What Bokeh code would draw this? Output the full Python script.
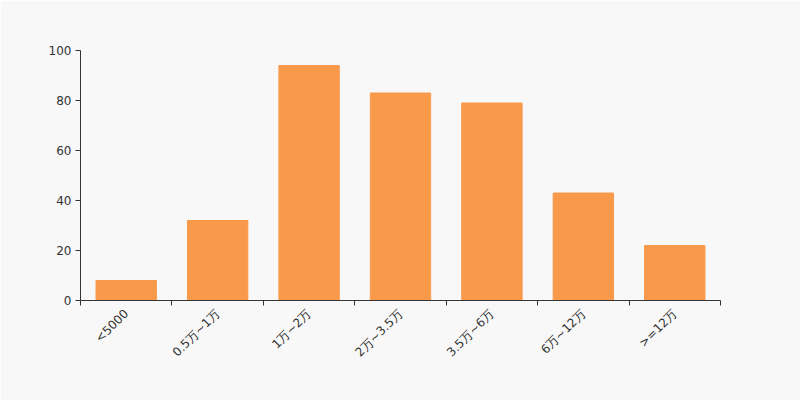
from bokeh.plotting import figure
from bokeh.models import FixedTicker, Range1d
from bokeh.embed import file_html
from bokeh.resources import INLINE
import math

categories = ["<5000", "0.5万~1万", "1万~2万", "2万~3.5万", "3.5万~6万", "6万~12万", ">=12万"]
values = [8, 32, 94, 83, 79, 43, 22]
y_ticks = [0, 20, 40, 60, 80, 100]

centers = [i + 0.5 for i in range(len(categories))]
bounds = list(range(len(categories) + 1))

p = figure(width=800, height=400, output_backend="svg", toolbar_location=None,
           x_range=Range1d(0, len(categories)), y_range=Range1d(0, 100),
           min_border_left=80, min_border_right=80, min_border_top=50, min_border_bottom=100)
p.background_fill_color = "#f8f8f8"
p.border_fill_color = "#f8f8f8"
p.outline_line_color = None
p.xgrid.visible = False
p.ygrid.visible = False

p.vbar(x=centers, top=values, width=0.66, color="#f9994a")

p.xaxis.ticker = FixedTicker(ticks=centers, minor_ticks=bounds)
p.xaxis.major_label_overrides = {c: lab for c, lab in zip(centers, categories)}
p.xaxis.major_tick_out = 0
p.xaxis.major_tick_in = 0
p.xaxis.minor_tick_out = 5
p.xaxis.minor_tick_in = 0
p.xaxis.major_label_orientation = math.pi / 4
p.xaxis.major_label_standoff = 6

p.yaxis.ticker = FixedTicker(ticks=y_ticks, minor_ticks=[])
p.yaxis.major_tick_out = 5
p.yaxis.major_tick_in = 0
p.yaxis.major_label_standoff = 4

for ax in (p.xaxis, p.yaxis):
    ax.axis_line_color = "#333333"
    ax.major_tick_line_color = "#333333"
    ax.minor_tick_line_color = "#333333"
    ax.major_label_text_color = "#333333"
    ax.major_label_text_font = "DejaVu Sans"
    ax.major_label_text_font_size = "12px"

open("out.html", "w").write(file_html(p, INLINE))
